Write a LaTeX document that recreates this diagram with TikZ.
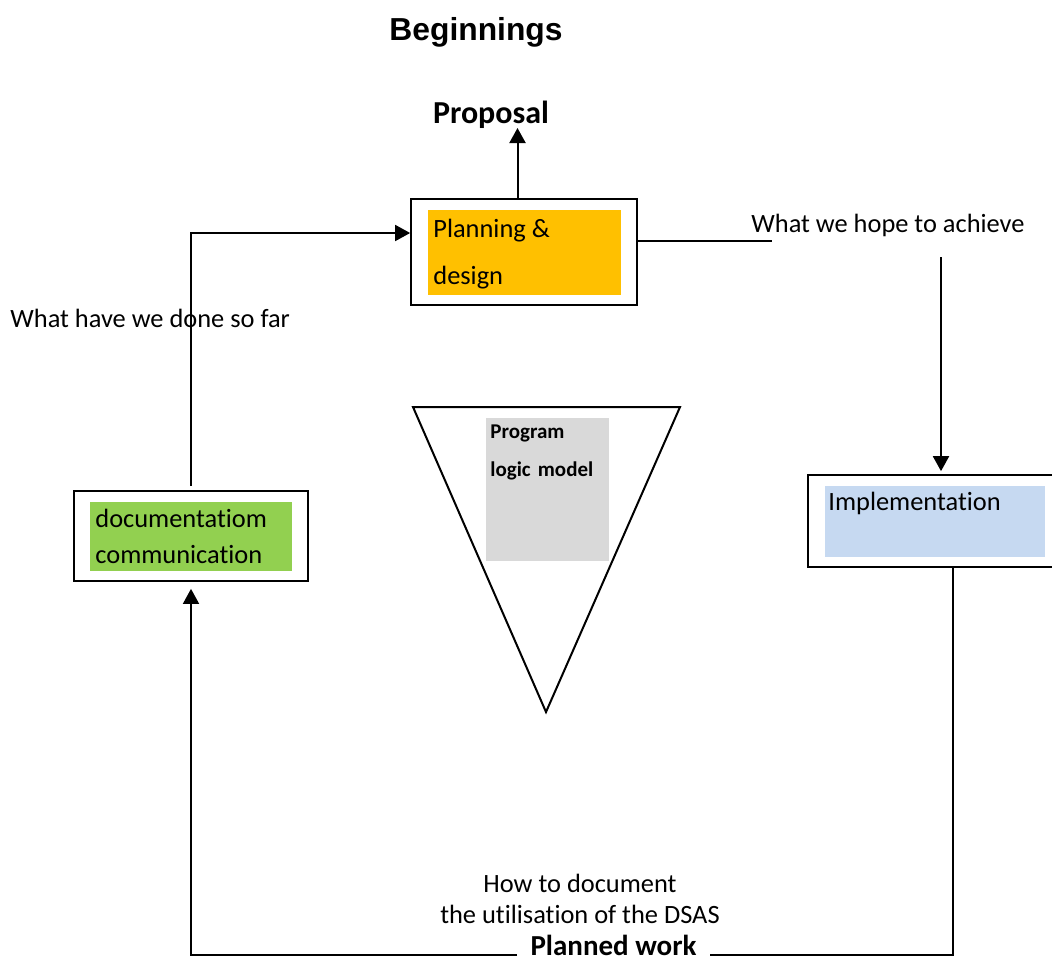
\documentclass[tikz,border=0pt]{standalone}
\usepackage{fontspec}
\setmainfont{Carlito}[Ligatures={NoCommon}]
\newfontfamily\titlefont{Liberation Sans}
\usetikzlibrary{arrows.meta,fit}
\definecolor{plorange}{HTML}{FFC000}
\definecolor{docgreen}{HTML}{92D050}
\definecolor{impblue}{HTML}{C6D9F1}
\definecolor{proggray}{HTML}{D9D9D9}
\begin{document}
\begin{tikzpicture}[x=0.5pt,y=-0.5pt,
  outerbox/.style={draw, line width=0.85pt, inner sep=0pt},
  lbl/.style={inner sep=0pt, font=\fontsize{13.2}{16}\selectfont},
  boldlbl/.style={inner sep=0pt, font=\bfseries\fontsize{16}{19}\selectfont},
  arrowline/.style={line width=1pt, -{Triangle[width=8pt,length=7.5pt]}},
  thinline/.style={line width=0.65pt}]
\useasboundingbox (0,0) rectangle (1052,958);

% title
\node[anchor=base, inner sep=0pt, font=\titlefont\bfseries\fontsize{15.9}{19}\selectfont] (title) at (476,40) {Beginnings};
\node[boldlbl, anchor=base] (prop) at (491,123) {Proposal};

% planning box
\node[outerbox, fit={(411,199) (637,305)}] (plan) {};
\fill[plorange] (428,210) rectangle (621,295);
\node[lbl, anchor=base west] (plan1) at (433,237) {Planning \&};
\node[lbl, anchor=base west] (plan2) at (433,284) {design};

% documentation box
\node[outerbox, fit={(74,491) (308,581)}] (doc) {};
\fill[docgreen] (90,502) rectangle (292,571);
\node[lbl, anchor=base west] (doc1) at (95,527) {documentatiom};
\node[lbl, anchor=base west] (doc2) at (95,563) {communication};

% implementation box
\node[outerbox, fit={(808,475) (1074,567)}] (impl) {};
\fill[impblue] (825,486) rectangle (1045,557);
\node[lbl, anchor=base west] (impl1) at (828,510) {Implementation};

% triangle with program logic model
\draw[line width=1pt] (413,407) -- (680,407) -- (546,712) -- cycle;
\fill[proggray] (486,418) rectangle (609,561);
\node[inner sep=0pt, anchor=base west, font=\bfseries\fontsize{10.5}{12}\selectfont] (prog1) at (490,438) {Program};
\node[inner sep=0pt, anchor=base west, font=\bfseries\fontsize{10.5}{12}\selectfont] (prog2) at (490,476) {logic\hspace{1.2pt} model};

% labels
\node[lbl, anchor=base west] (done) at (10,327) {What have we done so far};
\node[lbl, anchor=base west] (hope) at (751,232) {What we hope to achieve};
\node[lbl, anchor=base] (how1) at (580,892) {How to document};
\node[lbl, anchor=base] (how2) at (580,923) {the utilisation of the DSAS};
\node[inner ysep=0pt, inner xsep=6.5pt, anchor=base, font=\bfseries\fontsize{14.5}{17}\selectfont] (pw) at (613.5,955) {Planned work};

% connectors
\coordinate (proptip) at (517.5,128);
\draw[arrowline] (plan.north -| proptip) -- (proptip);
\coordinate (hopeend) at (772,241);
\draw[thinline] ([yshift=5.5pt]plan.east) -- (hopeend);
\coordinate (hopestart) at (941,257);
\draw[arrowline, shorten >=1.5pt] (hopestart) -- (impl.north);
\draw[thinline] ([xshift=6pt]impl.south) |- ([yshift=-2.4pt]pw.mid east);
\draw[line width=0.8pt, -{Triangle[width=8pt,length=7.5pt]}, shorten >=3.5pt] ([yshift=-2.4pt]pw.mid west) -| (doc.south);
\draw[line width=0.85pt, -{Triangle[width=8pt,length=7.5pt]}, shorten <=2pt] (doc.north) |- ([yshift=9.5pt]plan.west);
\end{tikzpicture}
\end{document}
